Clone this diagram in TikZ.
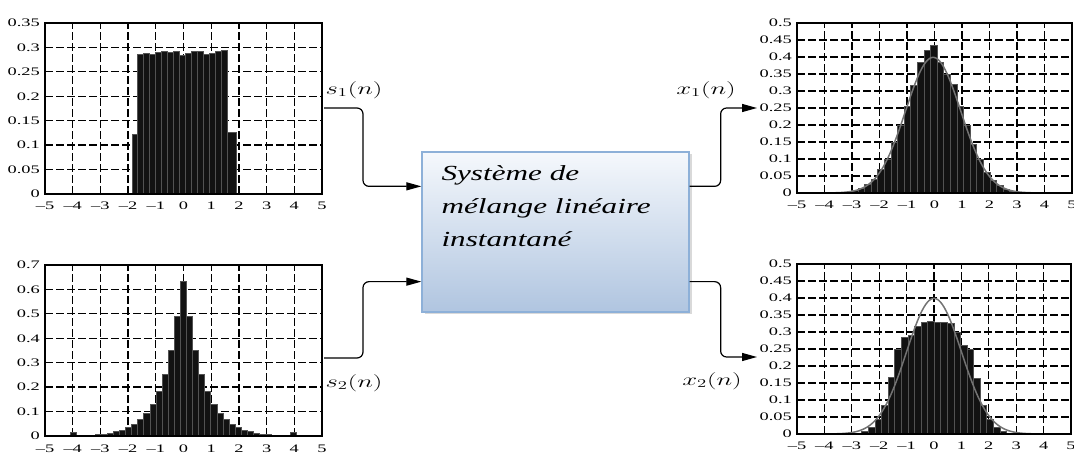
\documentclass[tikz,border=0pt]{standalone}
\usepackage[no-math]{fontspec}
\setmainfont{Liberation Serif}
\newfontfamily\tickfont[FakeStretch=1.6]{Liberation Serif}
\newfontfamily\boxfont[FakeStretch=1.45]{Liberation Serif}
\usetikzlibrary{arrows.meta,calc,shadows}
\definecolor{boxtop}{HTML}{F5F8FC}
\definecolor{boxbot}{HTML}{B0C5E0}
\definecolor{boxedge}{HTML}{8DB0D8}
\newcommand\mlab[1]{\scalebox{1.55}[1]{\fontsize{16.5}{18}\selectfont$#1$}}
\tikzset{
  gridl/.style={line width=1.3pt, dash pattern=on 8pt off 3pt},
  framel/.style={line width=1.2pt},
  bar/.style={fill=black!93, draw=black!68, line width=0.35pt},
  gauss/.style={draw=black!55, line width=1.5pt},
  tick/.style={font=\tickfont\fontsize{11.5}{12}\selectfont, inner sep=0pt},
  conn/.style={line width=1.2pt, rounded corners=6pt, -{Triangle[length=15pt,width=8pt]}},
  mlabel/.style={inner sep=0pt},
  boxst/.style={draw=boxedge, line width=1.3pt, top color=boxtop, bottom color=boxbot,
     minimum width=267pt, minimum height=160pt, inner sep=0pt,
     drop shadow={opacity=0.3, shadow xshift=2.5pt, shadow yshift=-2.5pt}},
  boxtxt/.style={font=\boxfont\itshape\fontsize{21.5}{33}\selectfont, align=left, inner sep=0pt}
}
\begin{document}
\begin{tikzpicture}[x=1pt,y=-1pt]
\useasboundingbox (0,0) rectangle (1074,454);

% ---------- plot 1 (top left) ----------
\begin{scope}[shift={(183.5,194)}, x=27.7pt, y=488.6pt]
  \foreach \v in {-4,...,4} \draw[gridl] (\v,0) -- (\v,0.35);
  \foreach \h in {0.05,0.1,0.15,0.2,0.25,0.3} \draw[gridl] (-5,\h) -- (5,\h);
  \foreach \h [count=\i from 0] in {0.123,0.287,0.288,0.287,0.291,0.293,0.291,0.292,0.285,0.289,0.293,0.292,0.287,0.288,0.293,0.294}{
    \pgfmathsetmacro\a{-1.87+\i*0.215}
    \draw[bar] (\a,0) rectangle ({\a+0.215},\h);
  }
  \draw[bar] (1.57,0) rectangle (1.9,0.127);
  \draw[framel] (-5,0) rectangle (5,0.35);
  \foreach \v/\t [count=\i] in {-5/–5,-4/–4,-3/–3,-2/–2,-1/–1,0/0,1/1,2/2,3/3,4/4,5/5}
    \node[tick] (pa-x\i) at (\v,-0.0235) {\t};
  \foreach \h/\t [count=\i] in {0/0,0.05/0.05,0.1/0.1,0.15/0.15,0.2/0.2,0.25/0.25,0.3/0.3,0.35/0.35}
    \node[tick,anchor=east] (pa-y\i) at (-5.18,\h) {\t};
\end{scope}

% ---------- plot 2 (bottom left) ----------
\begin{scope}[shift={(183.5,436)}, x=27.7pt, y=244.3pt]
  \foreach \v in {-4,...,4} \draw[gridl] (\v,0) -- (\v,0.7);
  \foreach \h in {0.1,0.2,0.3,0.4,0.5,0.6} \draw[gridl] (-5,\h) -- (5,\h);
  \foreach \k in {-18,...,18}{
    \pgfmathsetmacro\h{ifthenelse(\k==0,0.632,ifthenelse(abs(\k)==18,0.014,0.68*exp(-1.5*abs(\k)*0.22)))}
    \pgfmathsetmacro\a{\k*0.22-0.12}
    \draw[bar] (\a,0) rectangle ({\a+0.22},\h);
  }
  \draw[framel] (-5,0) rectangle (5,0.7);
  \foreach \v/\t [count=\i] in {-5/–5,-4/–4,-3/–3,-2/–2,-1/–1,0/0,1/1,2/2,3/3,4/4,5/5}
    \node[tick] (pb-x\i) at (\v,-0.053) {\t};
  \foreach \h/\t [count=\i] in {0/0,0.1/0.1,0.2/0.2,0.3/0.3,0.4/0.4,0.5/0.5,0.6/0.6,0.7/0.7}
    \node[tick,anchor=east] (pb-y\i) at (-5.18,\h) {\t};
\end{scope}

% ---------- plot 3 (top right) ----------
\begin{scope}[shift={(934.5,193)}, x=27.5pt, y=340pt]
  \foreach \v in {-4,...,4} \draw[gridl] (\v,0) -- (\v,0.5);
  \foreach \h in {0.05,0.1,0.15,0.2,0.25,0.3,0.35,0.4,0.45} \draw[gridl] (-5,\h) -- (5,\h);
  \foreach \h [count=\i from 0] in {0.001,0.003,0.007,0.013,0.025,0.04,0.07,0.1,0.15,0.2,0.255,0.316,0.386,0.42,0.435,0.385,0.35,0.32,0.255,0.2,0.145,0.1,0.062,0.038,0.022,0.012,0.006,0.003,0.001}{
    \pgfmathsetmacro\a{-3.51+\i*0.24}
    \draw[bar] (\a,0) rectangle ({\a+0.24},\h);
  }
  \draw[gauss] plot[domain=-4:4, samples=120, smooth] (\x-0.05,{0.3989*exp(-\x*\x/2)});
  \draw[framel] (-5,0) rectangle (5,0.5);
  \foreach \v/\t [count=\i] in {-5/–5,-4/–4,-3/–3,-2/–2,-1/–1,0/0,1/1,2/2,3/3,4/4,5/5}
    \node[tick] (pc-x\i) at (\v,-0.035) {\t};
  \foreach \h/\t [count=\i] in {0/0,0.05/0.05,0.1/0.1,0.15/0.15,0.2/0.2,0.25/0.25,0.3/0.3,0.35/0.35,0.4/0.4,0.45/0.45,0.5/0.5}
    \node[tick,anchor=east] (pc-y\i) at (-5.18,\h) {\t};
\end{scope}

% ---------- plot 4 (bottom right) ----------
\begin{scope}[shift={(934,434)}, x=27.4pt, y=340pt]
  \foreach \v in {-4,...,4} \draw[gridl] (\v,0) -- (\v,0.5);
  \foreach \h in {0.05,0.1,0.15,0.2,0.25,0.3,0.35,0.4,0.45} \draw[gridl] (-5,\h) -- (5,\h);
  \foreach \h [count=\i from 0] in {0.003,0.008,0.02,0.045,0.085,0.166,0.25,0.285,0.29,0.317,0.33,0.332,0.33,0.328,0.325,0.30,0.262,0.25,0.165,0.085,0.045,0.02,0.008,0.003}{
    \pgfmathsetmacro\a{-2.88+\i*0.24}
    \draw[bar] (\a,0) rectangle ({\a+0.24},\h);
  }
  \draw[gauss] plot[domain=-4:4, samples=120, smooth] (\x,{0.3989*exp(-\x*\x/2)});
  \draw[framel] (-5,0) rectangle (5,0.5);
  \foreach \v/\t [count=\i] in {-5/–5,-4/–4,-3/–3,-2/–2,-1/–1,0/0,1/1,2/2,3/3,4/4,5/5}
    \node[tick] (pd-x\i) at (\v,-0.035) {\t};
  \foreach \h/\t [count=\i] in {0/0,0.05/0.05,0.1/0.1,0.15/0.15,0.2/0.2,0.25/0.25,0.3/0.3,0.35/0.35,0.4/0.4,0.45/0.45,0.5/0.5}
    \node[tick,anchor=east] (pd-y\i) at (-5.18,\h) {\t};
\end{scope}

% ---------- mixing system ----------
\node[boxst] (box) at (555.5,232) {};
\node[boxtxt, anchor=north west] (boxtext) at ($(box.north west)+(20,14)$)
  {Système de\\mélange linéaire\\instantané};

\coordinate (in1)  at ($(box.north west)+(0,35)$);
\coordinate (in2)  at ($(box.south west)+(0,-31)$);
\coordinate (out1) at ($(box.north east)+(0,35)$);
\coordinate (out2) at ($(box.south east)+(0,-31)$);
\coordinate (s1o) at (324,108);
\coordinate (s2o) at (324,358);
\coordinate (x1e) at (757,108);
\coordinate (x2e) at (757,357);

\draw[conn] (s1o) -- ++(39,0) |- (in1);
\draw[conn] (s2o) -- ++(39,0) |- (in2);
\draw[conn] (out1) -- ++(31,0) |- (x1e);
\draw[conn] (out2) -- ++(31,0) |- (x2e);

\node[mlabel] (s1l) at (354,90)  {\mlab{s_1(n)}};
\node[mlabel] (s2l) at (354,383) {\mlab{s_2(n)}};
\node[mlabel] (x1l) at (706,90)  {\mlab{x_1(n)}};
\node[mlabel] (x2l) at (712,381) {\mlab{x_2(n)}};
\end{tikzpicture}
\end{document}
